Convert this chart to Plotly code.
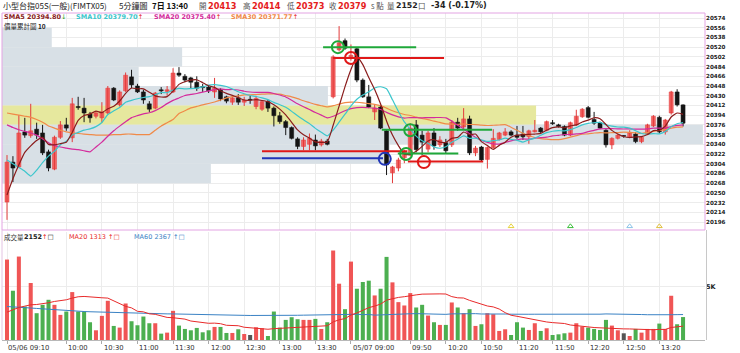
import plotly.graph_objects as go
import pandas as pd

# ---------------- data ----------------
opens = [20233,20307,20298,20363,20356,20368,20361,20326,20294,20353,
         20376,20352,20410,20407,20396,20392,20389,20398,20444,20413,
         20439,20465,20448,20437,20415,20407,20441,20438,20437,20472,
         20466,20463,20455,20447,20446,20437,20441,20428,20418,20426,
         20418,20422,20410,20405,20419,20407,20393,20382,20371,20350,
         20336,20340,20348,20339,20346,20428,20515,20532,20500,20517,
         20459,20428,20400,20409,20365,20287,20296,20315,20320,20376,
         20357,20331,20361,20339,20343,20339,20381,20372,20387,20324,
         20335,20312,20334,20349,20357,20363,20357,20359,20354,20363,
         20370,20366,20380,20376,20373,20357,20376,20391,20408,20386,
         20380,20366,20339,20351,20355,20353,20359,20345,20359,20374,
         20390,20363,20398,20437,20413]
highs = [20320,20318,20394,20389,20415,20380,20376,20330,20356,20383,
         20389,20426,20428,20426,20400,20400,20418,20448,20446,20440,
         20473,20478,20452,20441,20420,20437,20446,20448,20481,20483,
         20470,20465,20466,20452,20448,20463,20444,20430,20430,20433,
         20428,20430,20430,20422,20422,20410,20400,20385,20373,20353,
         20353,20360,20358,20350,20350,20505,20559,20536,20525,20520,
         20462,20450,20413,20413,20368,20300,20315,20330,20379,20385,
         20365,20365,20370,20355,20350,20385,20389,20407,20393,20337,
         20337,20336,20368,20363,20370,20366,20374,20374,20367,20385,
         20372,20384,20385,20378,20375,20382,20404,20407,20411,20400,
         20382,20368,20353,20359,20357,20366,20362,20355,20378,20394,
         20393,20387,20439,20442,20414]
lows = [20200,20270,20296,20352,20352,20350,20320,20290,20292,20350,
        20365,20344,20404,20381,20380,20388,20380,20395,20420,20410,
        20437,20444,20435,20415,20400,20405,20433,20430,20435,20465,
        20455,20444,20439,20437,20435,20426,20420,20416,20413,20413,
        20411,20415,20405,20402,20400,20373,20378,20357,20349,20331,
        20329,20329,20329,20336,20338,20425,20512,20515,20495,20455,
        20426,20407,20385,20368,20283,20268,20290,20305,20318,20325,
        20320,20325,20330,20335,20322,20335,20365,20368,20320,20318,
        20308,20295,20332,20347,20355,20355,20350,20348,20341,20362,
        20361,20364,20376,20371,20355,20355,20374,20389,20388,20376,
        20368,20334,20331,20349,20352,20351,20342,20342,20357,20372,
        20360,20358,20395,20410,20373]
closes = [20307,20296,20361,20357,20365,20357,20324,20296,20353,20376,
          20370,20415,20408,20398,20389,20398,20400,20444,20422,20437,
          20468,20450,20437,20422,20405,20435,20439,20441,20472,20468,
          20459,20455,20444,20445,20439,20444,20424,20420,20426,20418,
          20422,20422,20425,20419,20407,20393,20382,20371,20351,20336,
          20348,20351,20337,20346,20340,20502,20528,20518,20505,20459,
          20428,20409,20407,20370,20302,20298,20311,20326,20370,20330,
          20344,20361,20337,20348,20328,20381,20370,20387,20324,20333,
          20311,20334,20351,20361,20363,20357,20353,20354,20365,20366,
          20363,20382,20378,20373,20357,20380,20392,20405,20390,20379,
          20370,20339,20351,20357,20355,20361,20345,20353,20376,20392,
          20363,20385,20437,20413,20379]
volumes = [7544,4620,7827,3140,5346,2514,3300,3772,3300,2357,
           2670,4495,2670,2670,1666,912,2263,3678,1320,1163,
           3425,1760,1383,2200,1572,1572,597,691,2735,1352,
           1037,912,1132,723,912,1226,1226,660,660,1006,
           566,472,1194,1100,377,2670,1163,1886,2138,1949,
           1886,1886,1980,1037,1666,8393,5281,2891,7355,4809,
           5440,5564,4180,4809,7795,5406,3552,3238,4400,3050,
           3300,2295,1666,1415,1415,3520,3050,2514,2891,1320,
           1477,2514,2420,849,1006,472,1666,1163,943,1572,
           849,1100,472,534,629,691,1572,1257,1163,1037,
           943,1886,1352,912,629,377,1037,691,1037,1037,
           1540,1037,4150,1477,2152]

# warm-up values of the averages (before a full window exists)
sma5_seed = [20246, 20276, 20302, 20325]
sma10_seed = [20311, 20304, 20297, 20290, 20281, 20292, 20306, 20318, 20327]
sma20_seed = [20376, 20371, 20367, 20364, 20361, 20357, 20350, 20343, 20338, 20335,
              20333, 20331, 20330, 20328, 20326, 20335, 20344, 20355, 20365]
sma30_seed = [20398, 20396, 20394, 20392, 20390, 20386, 20381, 20374, 20370, 20366,
              20363, 20361, 20360, 20359, 20358, 20357, 20357, 20357, 20358, 20358,
              20359, 20359, 20358, 20358, 20358, 20366, 20374, 20380, 20386]
vma20_seed = [2610, 2830, 3050, 3175, 3300, 3330, 3395, 3490, 3615, 3680,
              3772, 3930, 4055, 4085, 4025, 3960, 3960, 3930, 3680]
vma60_seed = [3140, 3120, 3090, 3050, 3000, 2960, 2920, 2870, 2820, 2780,
              2740, 2710, 2690, 2670, 2650, 2630, 2610, 2590, 2575, 2560,
              2545, 2525, 2515, 2500, 2490, 2480, 2465, 2450, 2445, 2440,
              2430, 2425, 2420, 2410, 2400, 2390, 2380, 2370, 2360, 2350,
              2310, 2300, 2295, 2295, 2295, 2295, 2295, 2300, 2310, 2320,
              2330, 2340, 2350, 2360, 2370, 2400, 2410, 2415, 2420]

# volume profile (價量累計圖) bands
profile_low = [20520, 20484, 20448, 20412, 20376, 20340, 20304, 20268]
profile_vol = [7.1, 25.7, 19.5, 46.5, 76.2, 100.0, 55.3, 29.8]
profile_hot = [False, False, False, False, True, False, False, False]
profile_step = 18 * 2

# x tick labels (bar index, text)
tick_idx = [0, 10, 16, 22, 28, 34, 40, 46, 52, 58, 68, 74, 80, 86, 92, 98, 104, 110]
tick_txt = ["05/06 09:10", "10:00", "10:30", "11:00", "11:30", "12:00", "12:30", "13:00",
            "13:30", "05/07 09:00", "09:50", "10:20", "10:50", "11:20", "11:50", "12:20",
            "12:50", "13:20"]
price_ticks = list(range(20196, 20575, 18))

# drawn support/resistance lines: (start bar, end bar, price, colour)
draw_lines = [(53.3, 69.0, 20520, "#1fa83a"), (55.0, 73.7, 20500, "#e01818"),
              (43.0, 67.5, 20327, "#e01818"), (43.0, 63.4, 20314, "#2035b8"),
              (63.2, 81.8, 20367, "#1fa83a"), (65.9, 76.1, 20323, "#1fa83a"),
              (67.6, 80.3, 20308, "#e01818")]
draw_circles = [(55.8, 20520, "#1fa83a"), (58.0, 20500, "#e01818"), (63.7, 20313, "#2035b8"),
                (67.3, 20322, "#1fa83a"), (70.3, 20307, "#e01818"), (68.0, 20366, "#1fa83a")]
signal_idx = [85, 95, 105, 110]
signal_col = ["#e6d23c", "#3cbf3c", "#8cc4e8", "#e0bf40"]

# ---------------- derived ----------------
W, H = 740, 353
n = len(closes)
idx = list(range(n))
cs = pd.Series(closes, dtype=float)
vs = pd.Series(volumes, dtype=float)


def ma(series, w, seed):
    r = series.rolling(w).mean().tolist()
    return list(seed) + r[len(seed):]


sma5 = ma(cs, 5, sma5_seed)
sma10 = ma(cs, 10, sma10_seed)
sma20 = ma(cs, 20, sma20_seed)
sma30 = ma(cs, 30, sma30_seed)
vma20 = ma(vs, 20, vma20_seed)
vma60 = ma(vs, 60, vma60_seed)

UP_FILL, UP_LINE, DN = "#f26464", "#e23a3a", "#151515"
up = [c > o for o, c in zip(opens, closes)]
flat = [c == o for o, c in zip(opens, closes)]
body_base = [min(o, c) for o, c in zip(opens, closes)]
body_h = [max(abs(c - o), 1.3) for o, c in zip(opens, closes)]
body_col = [UP_FILL if u else DN for u in up]
vol_col = ["#555555" if f else ("#f05555" if u else "#4caf50") for u, f in zip(up, flat)]

px_l, px_r = 2, 705
y_top_p, y_bot_p = 13, 230
y_top_v, y_bot_v = 232, 340
pp = 0.5397  # px per point, price axis
xr = [-0.843, 117.7]
yr = [20574 - (y_bot_p - 18) / pp, 20574 + (18 - y_top_p) / pp]
prof_max = 100.3  # profile value spanning the full panel width

fig = go.Figure()

# volume profile, drawn first (underneath), scaled onto the bar-index axis
fig.add_trace(go.Bar(
    x=[v / prof_max * (xr[1] - xr[0]) for v in profile_vol],
    y=[lo + profile_step / 2 for lo in profile_low], orientation="h",
    width=profile_step, base=xr[0], xaxis="x", yaxis="y",
    marker=dict(color=["#e6e89e" if h else "#d8e0e6" for h in profile_hot], line=dict(width=0)),
    hoverinfo="skip", showlegend=False))

# wicks
for cond, col in ((True, UP_LINE), (False, DN)):
    wx, wy = [], []
    for i in idx:
        if up[i] == cond:
            wx += [i, i, None]
            wy += [lows[i], highs[i], None]
    fig.add_trace(go.Scatter(x=wx, y=wy, mode="lines", line=dict(color=col, width=1),
                             xaxis="x", yaxis="y", hoverinfo="skip", showlegend=False))

# bodies
fig.add_trace(go.Bar(x=idx, y=body_h, base=body_base, width=0.68, xaxis="x", yaxis="y",
                     marker=dict(color=body_col, line=dict(color=[UP_LINE if u else DN for u in up], width=0.5)),
                     showlegend=False, hoverinfo="skip"))

# moving averages
for vals, col in ((sma30, "#f08a48"), (sma20, "#d42b9c"), (sma10, "#3cc6cc"), (sma5, "#8a1c1c")):
    fig.add_trace(go.Scatter(x=idx, y=vals, mode="lines", line=dict(color=col, width=1.2, shape="spline", smoothing=0.5),
                             xaxis="x", yaxis="y", hoverinfo="skip", showlegend=False))

# drawn lines and circles
for x0, x1, p, col in draw_lines:
    fig.add_trace(go.Scatter(x=[x0, x1], y=[p, p], mode="lines", line=dict(color=col, width=2),
                             xaxis="x", yaxis="y", hoverinfo="skip", showlegend=False))
fig.add_trace(go.Scatter(x=[c[0] for c in draw_circles], y=[c[1] for c in draw_circles], mode="markers",
                         marker=dict(symbol="circle-open", size=12, color=[c[2] for c in draw_circles],
                                     line=dict(width=2, color=[c[2] for c in draw_circles])),
                         xaxis="x", yaxis="y", hoverinfo="skip", showlegend=False))
fig.add_trace(go.Scatter(x=signal_idx, y=[20188] * len(signal_idx), mode="markers",
                         marker=dict(symbol="triangle-up-open", size=5, color=signal_col, line=dict(width=1, color=signal_col)),
                         xaxis="x", yaxis="y", hoverinfo="skip", showlegend=False))

# volume
fig.add_trace(go.Bar(x=idx, y=volumes, width=0.68, xaxis="x2", yaxis="y2",
                     marker=dict(color=vol_col, line=dict(width=0)), showlegend=False, hoverinfo="skip"))
fig.add_trace(go.Scatter(x=idx, y=vma60, mode="lines", line=dict(color="#3a82c4", width=1),
                         xaxis="x2", yaxis="y2", hoverinfo="skip", showlegend=False))
fig.add_trace(go.Scatter(x=idx, y=vma20, mode="lines", line=dict(color="#e82a2a", width=1),
                         xaxis="x2", yaxis="y2", hoverinfo="skip", showlegend=False))

dom_x = [px_l / W, px_r / W]
grid = "#ececec"
fig.update_layout(
    width=W, height=H, margin=dict(l=0, r=0, t=0, b=0),
    paper_bgcolor="white", plot_bgcolor="white", barmode="overlay",
    xaxis=dict(domain=dom_x, range=xr, anchor="y", tickvals=tick_idx, showticklabels=False,
               showgrid=True, gridcolor=grid, zeroline=False, showline=False, ticks=""),
    yaxis=dict(domain=[1 - y_bot_p / H, 1 - y_top_p / H], range=yr, side="right", anchor="x",
               tickvals=price_ticks, ticktext=[str(t) for t in price_ticks], showgrid=True, gridcolor=grid,
               zeroline=False, showline=False, ticks="",
               tickfont=dict(family="DejaVu Sans", size=5.6, color="#222", weight="bold")),
    xaxis2=dict(domain=dom_x, range=xr, anchor="y2", tickvals=tick_idx, showticklabels=False,
                showgrid=True, gridcolor=grid, zeroline=False, showline=True, linecolor="#b8b8b8",
                ticks="outside", ticklen=3, tickcolor="#aaa"),
    yaxis2=dict(domain=[1 - y_bot_v / H, 1 - y_top_v / H], range=[0, 10130], side="right", anchor="x2",
                tickvals=[5000], ticktext=["5K"], showgrid=True, gridcolor=grid, zeroline=False,
                showline=False, ticks="",
                tickfont=dict(family="DejaVu Sans", size=6.5, color="#222", weight="bold")),
)

# panel borders
fig.add_shape(type="rect", xref="paper", yref="paper", x0=px_l / W, x1=px_r / W,
              y0=1 - y_bot_p / H, y1=1 - y_top_p / H, line=dict(color="#e3a4e3", width=1))
fig.add_shape(type="line", xref="paper", yref="paper", x0=px_l / W, x1=px_l / W,
              y0=1 - y_bot_v / H, y1=1 - y_bot_p / H, line=dict(color="#e3c4e3", width=1))
fig.add_shape(type="line", xref="paper", yref="paper", x0=(px_r + 1.5) / W, x1=(px_r + 1.5) / W,
              y0=1 - y_bot_v / H, y1=1 - y_bot_p / H, line=dict(color="#c8c8c8", width=1))

CJK = "Noto Sans CJK TC"
SANS = "DejaVu Sans"


def txt(px, py, s, size=7.5, color="#222", family=SANS):
    fig.add_annotation(xref="paper", yref="paper", x=px / W, y=1 - py / H, text=s, showarrow=False,
                       xanchor="left", yanchor="middle", font=dict(family=family, size=size, color=color))


RED = "#e51c1c"
# header
txt(1, 6, "小型台指05S(一般)(FIMTX05)", 8, "#222", CJK)
txt(117, 6, "5分鐘圖", 8, "#222", CJK)
txt(150, 6, "<b>7日 13:40</b>", 8, "#111", CJK)
for px, lab, val in ((197, "開", "20413"), (241, "高", "20414"), (285, "低", "20373"), (327, "收", "20379")):
    txt(px, 6, lab, 7.5, "#555", CJK)
    txt(px + 9, 6, "<b>" + val + "</b>", 8.2, RED)
txt(369, 6, "s 點", 7.5, "#555", CJK)
txt(385, 6, "量", 7.5, "#555", CJK)
txt(394, 6, "<b>2152</b>", 7.8, "#222")
txt(416, 6, "口", 7.5, "#555", CJK)
txt(429, 6, "<b>-34 (-0.17%)</b>", 8, "#222")

# MA legend
txt(2, 17, "<b>SMA5 20394.80</b><span style='color:#1a9a1a'>↓</span>", 6.5, "#8a1c1c")
txt(74, 17, "<b>SMA10 20379.70</b><span style='color:#e51c1c'>↑</span>", 6.5, "#3cc6cc")
txt(152, 17, "<b>SMA20 20375.40</b><span style='color:#e51c1c'>↑</span>", 6.5, "#d42b9c")
txt(229, 17, "<b>SMA30 20371.77</b><span style='color:#e51c1c'>↑</span>", 6.5, "#f08a48")
txt(2, 26, "價量累計圖 <b>10</b>", 6.5, "#222", CJK)

# volume legend
txt(2, 237, "成交量", 6.5, "#333", CJK)
txt(22, 237, "<b>2152</b><span style='color:#e51c1c'>↑</span>□", 6.5, "#222")
txt(67, 237, "MA20 1313 ↑□", 6.5, "#e82a2a")
txt(132, 237, "MA60 2367 ↑□", 6.5, "#3a82c4")

# x tick labels (left aligned at tick)
for i, t in zip(tick_idx, tick_txt):
    fig.add_annotation(xref="x2", yref="paper", x=max(i, -0.7), y=1 - 348 / H, text=t, showarrow=False,
                       xanchor="left", yanchor="middle", xshift=-1 if i == 0 else 0,
                       font=dict(family=SANS, size=6.8, color="#333"))

fig.write_html("out.html")
